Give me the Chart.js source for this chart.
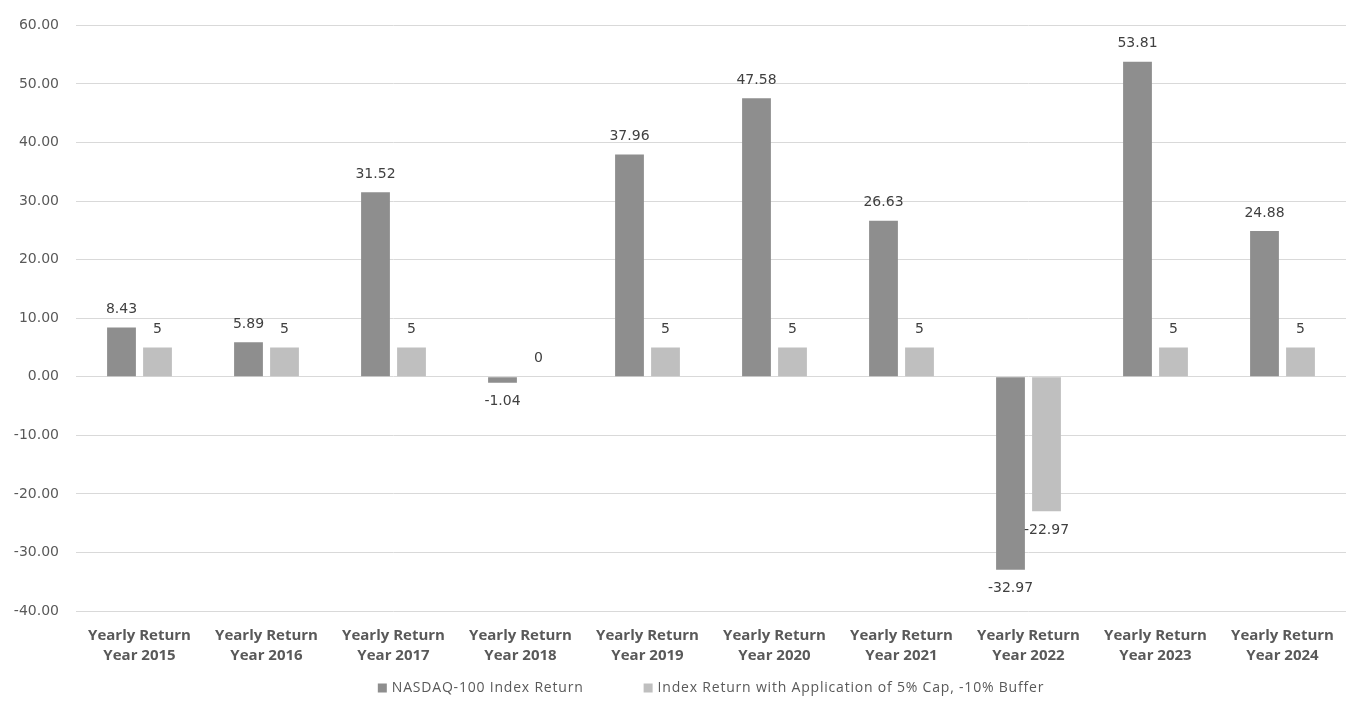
<!DOCTYPE html>
<html lang="en">
  <head>
    <meta charset="utf-8" />
    <title>NASDAQ-100 yearly returns</title>
    <script src="https://cdn.jsdelivr.net/npm/chart.js@4.4.1/dist/chart.umd.min.js"></script>
    <style>
      html, body { margin: 0; padding: 0; background: #ffffff; }
      #wrap { width: 1346px; height: 705px; }
    </style>
  </head>
  <body>
    <div id="wrap"><canvas id="returns"></canvas></div>

    <script>
      // data
      var categories = [
        ["Yearly Return", "Year 2015"],
        ["Yearly Return", "Year 2016"],
        ["Yearly Return", "Year 2017"],
        ["Yearly Return", "Year 2018"],
        ["Yearly Return", "Year 2019"],
        ["Yearly Return", "Year 2020"],
        ["Yearly Return", "Year 2021"],
        ["Yearly Return", "Year 2022"],
        ["Yearly Return", "Year 2023"],
        ["Yearly Return", "Year 2024"]
      ];
      var indexReturn = [8.43, 5.89, 31.52, -1.04, 37.96, 47.58, 26.63, -32.97, 53.81, 24.88];
      var cappedReturn = [5, 5, 5, 0, 5, 5, 5, -22.97, 5, 5];
      var seriesNames = ["NASDAQ-100 Index Return", "Index Return with Application of 5% Cap, -10% Buffer"];

      var SANS = "'Open Sans', 'Noto Sans', sans-serif";
      var WIDE = "'DejaVu Sans', sans-serif";

      // value labels above / below each bar
      var barLabels = {
        id: "barLabels",
        afterDatasetsDraw: function (chart) {
          var ctx = chart.ctx;
          ctx.save();
          ctx.font = "14px " + WIDE;
          ctx.fillStyle = "#404040";
          ctx.textAlign = "center";
          chart.data.datasets.forEach(function (ds, i) {
            var meta = chart.getDatasetMeta(i);
            meta.data.forEach(function (bar, j) {
              var v = ds.data[j];
              if (v >= 0) {
                ctx.textBaseline = "bottom";
                ctx.fillText(String(v), bar.x, bar.y - 11);
              } else {
                ctx.textBaseline = "top";
                ctx.fillText(String(v), bar.x, bar.y + 12);
              }
            });
          });
          ctx.restore();
        }
      };

      // legend centred under the plot area, with wide gap between items
      var bottomLegend = {
        id: "bottomLegend",
        afterDraw: function (chart) {
          var ctx = chart.ctx;
          var area = chart.chartArea;
          var box = 9, gapText = 5, gapItem = 60, y = 688;
          ctx.save();
          ctx.font = "14px " + SANS;
          ctx.letterSpacing = "0.8px";
          var widths = chart.data.datasets.map(function (ds) {
            return box + gapText + ctx.measureText(ds.label).width;
          });
          var total = widths[0] + widths[1] + gapItem;
          var x = (area.left + area.right) / 2 - total / 2;
          ctx.textBaseline = "middle";
          ctx.textAlign = "left";
          chart.data.datasets.forEach(function (ds, i) {
            ctx.fillStyle = ds.backgroundColor;
            ctx.fillRect(x, y - box / 2, box, box);
            ctx.fillStyle = "#595959";
            ctx.fillText(ds.label, x + box + gapText, y);
            x += widths[i] + gapItem;
          });
          ctx.restore();
        }
      };

      var ctx = document.getElementById("returns").getContext("2d");
      var chart = new Chart(ctx, {
        type: "bar",
        data: {
          labels: categories,
          datasets: [
            {
              label: seriesNames[0],
              data: indexReturn,
              backgroundColor: "#8e8e8e"
            },
            {
              label: seriesNames[1],
              data: cappedReturn,
              backgroundColor: "#bfbfbf"
            }
          ]
        },
        options: {
          responsive: true,
          maintainAspectRatio: false,
          animation: false,
          layout: { padding: { top: 6, right: 0, bottom: 34, left: 0 } },
          datasets: {
            bar: { categoryPercentage: 0.567, barPercentage: 0.8 }
          },
          plugins: {
            tooltip: { enabled: false },
            legend: { display: false }
          },
          scales: {
            x: {
              afterFit: function (axis) { axis.height = 60; },
              grid: { display: false },
              border: { display: false },
              ticks: {
                color: "#595959",
                padding: 7,
                maxRotation: 0,
                font: { family: SANS, size: 15, weight: "bold", lineHeight: 1.33 }
              }
            },
            y: {
              min: -40,
              max: 60,
              afterFit: function (axis) { axis.width = 76; },
              grid: { color: "#d9d9d9", drawTicks: false },
              border: { display: false },
              ticks: {
                stepSize: 10,
                padding: 17,
                color: "#595959",
                font: { family: WIDE, size: 14 },
                callback: function (v) { return v.toFixed(2); }
              }
            }
          }
        },
        plugins: [barLabels, bottomLegend]
      });
    </script>
  </body>
</html>
